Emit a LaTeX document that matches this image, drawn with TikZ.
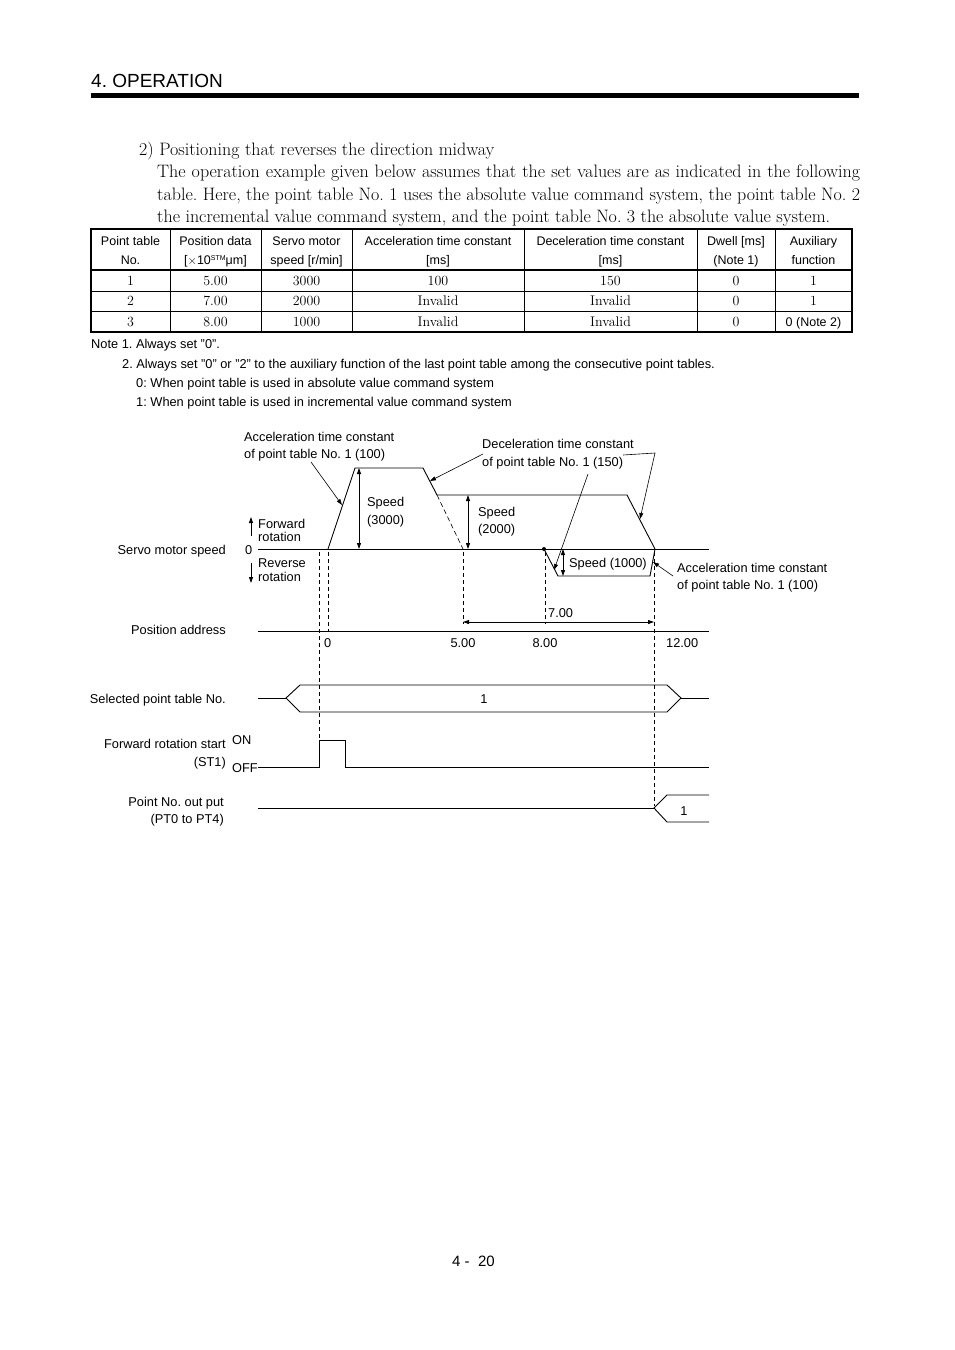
\documentclass[tikz,border=0pt]{standalone}
\usepackage{fontspec}
\setsansfont{Liberation Sans}
\usetikzlibrary{arrows.meta}
\tikzset{
  lbl/.style={font=\sffamily\fontsize{12.8}{15}\selectfont, inner sep=0pt},
  lw/.style={lbl, anchor=base west},
  le/.style={lbl, anchor=base east},
  th/.style={font=\sffamily\fontsize{12.5}{15}\selectfont, inner sep=0pt, anchor=base},
  td/.style={font=\rmfamily\fontsize{14}{16}\selectfont, inner sep=0pt, anchor=base},
  body/.style={font=\rmfamily\fontsize{18}{22}\selectfont, inner sep=0pt, anchor=base west},
  sig/.style={line width=0.9pt},
  dsh/.style={line width=0.8pt, dash pattern=on 4pt off 3pt},
  leader/.style={line width=0.6pt, -{Triangle[length=6pt,width=4pt]}},
  dimline/.style={line width=0.8pt, {Triangle[length=6pt,width=4pt]}-{Triangle[length=6pt,width=4pt]}},
  dirarrow/.style={line width=0.8pt, -{Triangle[length=6pt,width=4pt]}},
  tline/.style={line width=0.8pt},
  touter/.style={line width=1.6pt}
}
\begin{document}
\frenchspacing
\begin{tikzpicture}[x=1pt,y=-1pt]
\useasboundingbox (0,0) rectangle (954,1350);
\fill[white] (0,0) rectangle (954,1350);

% header
\node[font=\sffamily\fontsize{19}{22}\selectfont, inner sep=0pt, anchor=base west] (hdr) at (91,87) {4. OPERATION};
\fill (91,93) rectangle (859,98);

% body text
\node[body] (b0) at (139,155) {2) Positioning that reverses the direction midway};
\node[body] (b1) at (157,177) {\makebox[703pt][s]{The operation example given below assumes that the set values are as indicated in the following}};
\node[body] (b2) at (157,200) {\makebox[703pt][s]{table. Here, the point table No. 1 uses the absolute value command system, the point table No. 2}};
\node[body] (b3) at (157,222) {the incremental value command system, and the point table No. 3 the absolute value system.};

% table
\draw[tline] (91,270) -- (852,270);
\draw[tline] (91,291) -- (852,291);
\draw[tline] (91,311) -- (852,311);
\foreach \cx in {170,261,352,524,697,775} \draw[tline] (\cx,229) -- (\cx,332);
\draw[touter] (91,229) rectangle (852,332);
\draw[line width=1.2pt] (91,270) -- (852,270);

\node[th] (h1a) at (130.5,245) {Point table};
\node[th] (h1b) at (130.5,264) {No.};
\node[th] (h2a) at (215.5,245) {Position data};
\node[th] (h2b) at (215.5,264) {[$\times$10\raisebox{4pt}{\fontsize{7}{8}\selectfont STM}μm]};
\node[th] (h3a) at (306.5,245) {Servo motor};
\node[th] (h3b) at (306.5,264) {speed [r/min]};
\node[th] (h4a) at (438,245) {Acceleration time constant};
\node[th] (h4b) at (438,264) {[ms]};
\node[th] (h5a) at (610.5,245) {Deceleration time constant};
\node[th] (h5b) at (610.5,264) {[ms]};
\node[th] (h6a) at (736,245) {Dwell [ms]};
\node[th] (h6b) at (736,264) {(Note 1)};
\node[th] (h7a) at (813.5,245) {Auxiliary};
\node[th] (h7b) at (813.5,264) {function};

\node[td] (r1c1) at (130.5,285.5) {1};
\node[td] (r1c2) at (215.5,285.5) {5.00};
\node[td] (r1c3) at (306.5,285.5) {3000};
\node[td] (r1c4) at (438,285.5) {100};
\node[td] (r1c5) at (610.5,285.5) {150};
\node[td] (r1c6) at (736,285.5) {0};
\node[td] (r1c7) at (813.5,285.5) {1};
\node[td] (r2c1) at (130.5,305.5) {2};
\node[td] (r2c2) at (215.5,305.5) {7.00};
\node[td] (r2c3) at (306.5,305.5) {2000};
\node[td] (r2c4) at (438,305.5) {Invalid};
\node[td] (r2c5) at (610.5,305.5) {Invalid};
\node[td] (r2c6) at (736,305.5) {0};
\node[td] (r2c7) at (813.5,305.5) {1};
\node[td] (r3c1) at (130.5,326.5) {3};
\node[td] (r3c2) at (215.5,326.5) {8.00};
\node[td] (r3c3) at (306.5,326.5) {1000};
\node[td] (r3c4) at (438,326.5) {Invalid};
\node[td] (r3c5) at (610.5,326.5) {Invalid};
\node[td] (r3c6) at (736,326.5) {0};
\node[th] (r3c7) at (813.5,326.5) {0 (Note 2)};

% notes
\node[lw] (n1) at (91,348) {Note 1. Always set "0".};
\node[lw] (n2) at (122,368) {2. Always set "0" or "2" to the auxiliary function of the last point table among the consecutive point tables.};
\node[lw] (n3) at (136,387) {0: When point table is used in absolute value command system};
\node[lw] (n4) at (136,406) {1: When point table is used in incremental value command system};

% ---------- timing diagram ----------
% speed axis
\draw[sig] (258,549) -- (709,549);
\node[le] (lspeed) at (226,554) {Servo motor speed};
\node[lw] (zero) at (245,554) {0};
\node[lw] (fw1) at (258,528) {Forward};
\node[lw] (fw2) at (258,541) {rotation};
\node[lw] (rv1) at (258,567) {Reverse};
\node[lw] (rv2) at (258,581) {rotation};
\coordinate (fwA) at (251,536);
\coordinate (fwB) at (251,517);
\coordinate (rvA) at (251,563);
\coordinate (rvB) at (251,583);
\draw[dirarrow] (fwA) -- (fwB);
\draw[dirarrow] (rvA) -- (rvB);

% speed profile
\coordinate (p0) at (328,549);
\coordinate (p1) at (355,468);
\coordinate (p2) at (423,468);
\coordinate (p3) at (437,495);
\coordinate (p4) at (627,495);
\coordinate (p5) at (655,549);
\coordinate (p6) at (650,576);
\coordinate (p7) at (558,576);
\coordinate (p8) at (544,549);
\coordinate (p9) at (463,549);
\draw[sig, line join=miter] (p0) -- (p1) -- (p2) -- (p3) -- (p4) -- (p5) -- (p6) -- (p7) -- (p8);
\fill (p8) circle (2pt);
\draw[line width=0.6pt, dash pattern=on 5pt off 3pt] (p3) -- (p9);

% speed dimensions
\coordinate (s1a) at (359,468); \coordinate (s1b) at (359,549);
\coordinate (s2a) at (468,495); \coordinate (s2b) at (468,549);
\coordinate (s3a) at (563,549); \coordinate (s3b) at (563,576);
\draw[dimline] (s1a) -- (s1b);
\draw[dimline] (s2a) -- (s2b);
\draw[dimline] (s3a) -- (s3b);
\node[lw] (sp1a) at (367,506) {Speed};
\node[lw] (sp1b) at (367,524) {(3000)};
\node[lw] (sp2a) at (478,516) {Speed};
\node[lw] (sp2b) at (478,533) {(2000)};
\node[lw] (sp3) at (569,567) {Speed (1000)};

% callouts
\node[lw] (acc1a) at (244,441) {Acceleration time constant};
\node[lw] (acc1b) at (244,458) {of point table No. 1 (100)};
\node[lw] (decA) at (482,448) {Deceleration time constant};
\node[lw] (decB) at (482,466) {of point table No. 1 (150)};
\node[lw] (acc2a) at (677,572) {Acceleration time constant};
\node[lw] (acc2b) at (677,589) {of point table No. 1 (100)};

\coordinate (c1s) at (311,462); \coordinate (c1e) at (342,505);
\coordinate (c2s) at (483,454); \coordinate (c2e) at (430,481);
\coordinate (c3s) at (588,474); \coordinate (c3e) at (554,570);
\coordinate (c4s) at (623,455); \coordinate (c4m) at (655,453); \coordinate (c4e) at (640,519);
\coordinate (c5s) at (673,576); \coordinate (c5e) at (653,562);
\draw[leader] (c1s) -- (c1e);
\draw[leader] (c2s) -- (c2e);
\draw[leader] (c3s) -- (c3e);
\draw[leader] (c4s) -- (c4m) -- (c4e);
\draw[leader] (c5s) -- (c5e);

% position address
\draw[sig] (258,631) -- (709,631);
\node[le] (lpos) at (226,634) {Position address};
\node[lw] (t0) at (324,647) {0};
\node[lbl, anchor=base] (t5) at (463,647) {5.00};
\node[lbl, anchor=base] (t8) at (545,647) {8.00};
\node[lw] (t12) at (666,647) {12.00};
\coordinate (d7a) at (463,622); \coordinate (d7b) at (654,622);
\draw[dimline] (d7a) -- (d7b);
\node[lw] (l7) at (548,617) {7.00};

% dashed guides
\draw[dsh] (319,552) -- (319,740);
\draw[dsh] (328,552) -- (328,631);
\draw[dsh] (463,552) -- (463,624);
\draw[dsh] (545,552) -- (545,624);
\draw[dsh] (654,552) -- (654,806);

% selected point table No.
\node[le] (lsel) at (226,703) {Selected point table No.};
\draw[sig] (258,698) -- (286,698);
\draw[sig, line join=miter] (286,698) -- (300,685) -- (667,685) -- (681,698) -- (667,712) -- (300,712) -- cycle;
\draw[sig] (681,698) -- (709,698);
\node[lbl, anchor=base] (sel1) at (484,703) {1};

% forward rotation start
\node[le] (lst1a) at (226,748) {Forward rotation start};
\node[le] (lst1b) at (226,766) {(ST1)};
\node[lw] (lon) at (232,744) {ON};
\node[lw] (loff) at (232,772) {OFF};
\draw[sig, line join=miter] (258,767) -- (319,767) -- (319,740) -- (345,740) -- (345,767) -- (709,767);

% point no. output
\node[le] (lpt1) at (224,806) {Point No. out put};
\node[le] (lpt2) at (224,823) {(PT0 to PT4)};
\draw[sig] (258,808) -- (654,808);
\draw[sig, line join=miter] (709,795) -- (667,795) -- (654,808) -- (667,822) -- (709,822);
\node[lbl, anchor=base] (out1) at (684,815) {1};

% page number
\node[font=\sffamily\fontsize{15}{18}\selectfont, inner sep=0pt, anchor=base west] (pg) at (452,1266) {4 -\ \ 20};
\end{tikzpicture}
\end{document}
